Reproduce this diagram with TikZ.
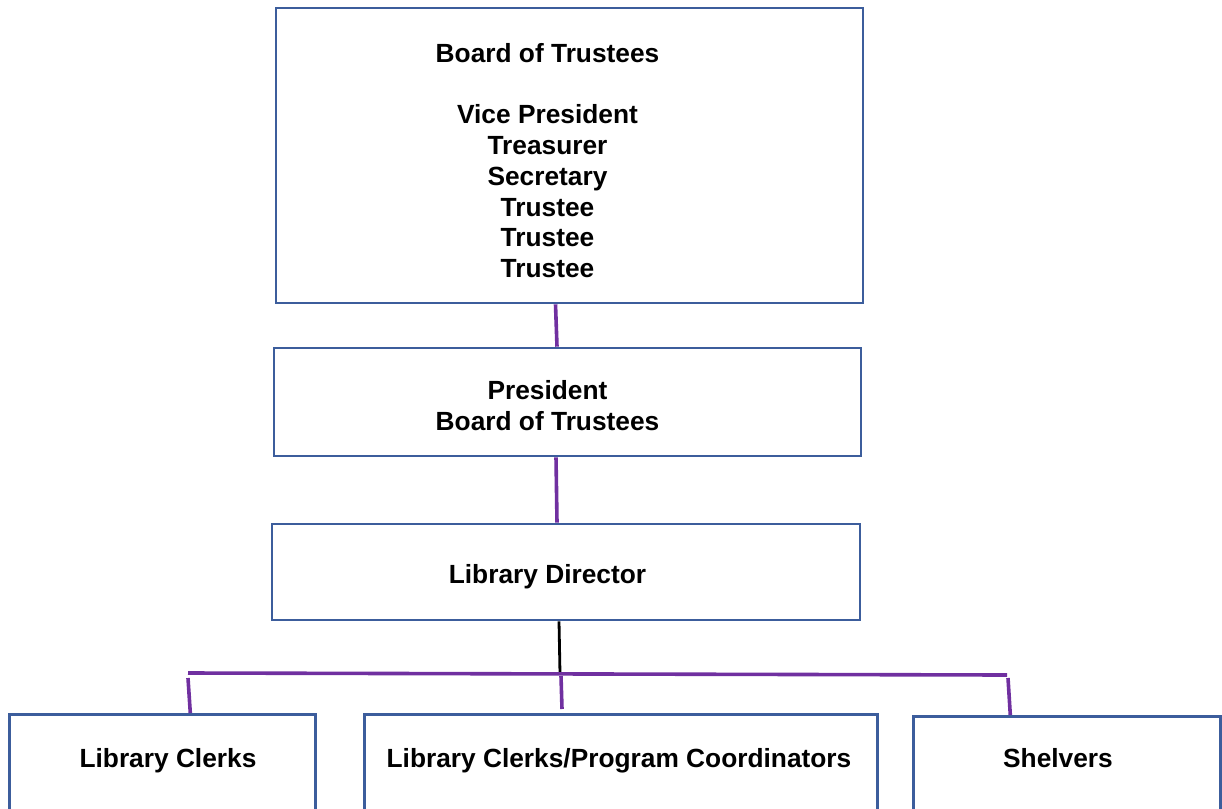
\documentclass[tikz,border=0pt]{standalone}
\usepackage{fontspec}
\setmainfont{Liberation Sans}
\usetikzlibrary{calc}
\definecolor{boxblue}{HTML}{3C5D9C}
\definecolor{linepurple}{HTML}{7030A0}
\tikzset{
  orgbox/.style={draw=boxblue, line width=2.6pt, rectangle, inner sep=0pt},
  orgtext/.style={font=\fontsize{26.3}{30.8}\selectfont\bfseries, align=center, inner sep=0pt},
  purpleline/.style={draw=linepurple, line width=3.6pt},
  blackline/.style={draw=black, line width=2.8pt}
}
\begin{document}
\begin{tikzpicture}[x=1pt,y=-1pt]
\useasboundingbox (0,0) rectangle (1222,808);
\clip (0,0) rectangle (1222,808);
% boxes
\node[orgbox, minimum width=587pt, minimum height=295pt] (b1) at (569.5,155.5) {};
\node[orgbox, minimum width=587pt, minimum height=108pt] (b2) at (567.5,402) {};
\node[orgbox, minimum width=588pt, minimum height=96pt] (b3) at (566,572) {};
\node[orgbox, minimum width=306pt, minimum height=130pt, anchor=north west] (c1) at (8,713) {};
\node[orgbox, minimum width=513pt, minimum height=130pt, anchor=north west] (c2) at (363,713) {};
\node[orgbox, minimum width=307pt, minimum height=130pt, anchor=north west] (c3) at (912,715) {};
% texts
\node[orgtext] (t1) at (547.5,160.5) {Board of Trustees\\[30.8pt]Vice President\\Treasurer\\Secretary\\Trustee\\Trustee\\Trustee};
\node[orgtext] (t2) at (547.5,405.5) {President\\Board of Trustees};
\node[orgtext] (t3) at (547.5,577) {Library Director};
\node[orgtext] (t4) at (168,761) {Library Clerks};
\node[orgtext] (t5) at (619,761) {Library Clerks/Program Coordinators};
\node[orgtext] (t6) at (1058,758) {Shelvers};
% connectors
\coordinate (hl) at (188,673);
\coordinate (hr) at (1007,675);
\draw[purpleline] ([xshift=-14pt]b1.south) -- ([xshift=-10.5pt]b2.north);
\draw[purpleline] ([xshift=-11.5pt]b2.south) -- ([xshift=-9pt]b3.north);
\draw[blackline] ([xshift=-7pt]b3.south) -- (560,674);
\draw[purpleline] (hl) -- (hr);
\draw[purpleline] (188,678) -- ([xshift=28pt]c1.north);
\draw[purpleline] (561,676) -- (562,709);
\draw[purpleline] (1008,678) -- ([xshift=-56.5pt]c3.north);
\end{tikzpicture}
\end{document}
